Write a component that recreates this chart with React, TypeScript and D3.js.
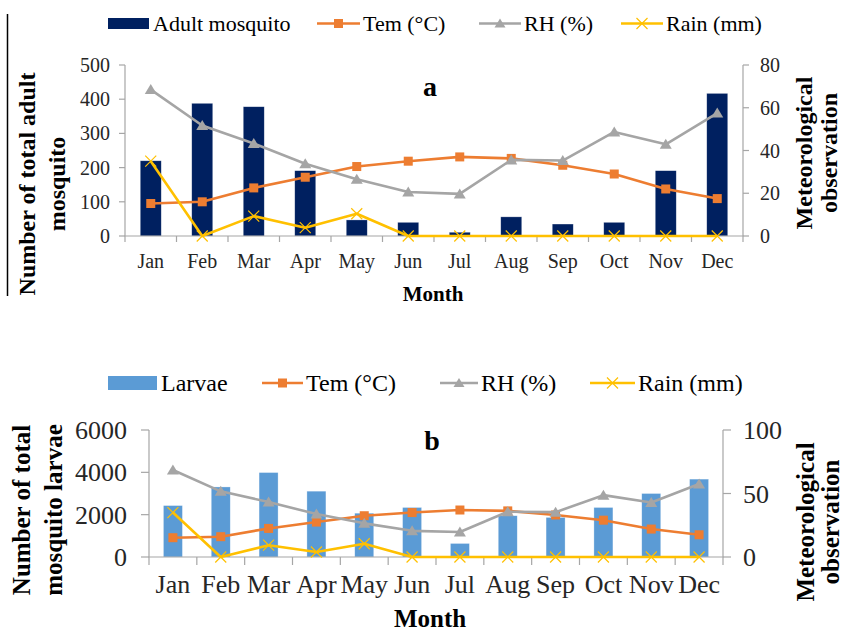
import React, { useRef, useEffect } from "react";
import * as d3 from "d3";

const months = ["Jan", "Feb", "Mar", "Apr", "May", "Jun", "Jul", "Aug", "Sep", "Oct", "Nov", "Dec"];
const adultMosquito = [220, 388, 378, 191, 47, 40, 11, 56, 35, 40, 191, 417];
const larvae = [2430, 3310, 3990, 3110, 2070, 2340, 640, 1950, 1870, 2340, 3000, 3680];
const temperature = [15.2, 16, 22.5, 27.5, 32.5, 35, 37, 36.3, 33.1, 29, 22, 17.5];
const humidity = [68.5, 51.7, 43.3, 33.8, 26.5, 20.6, 19.7, 35.6, 35.3, 48.7, 42.9, 57.5];
const rainfall = [35, 0, 9.3, 3.9, 10.4, 0, 0, 0, 0, 0, 0, 0];
const adultTicks = [0, 100, 200, 300, 400, 500];
const adultMetTicks = [0, 20, 40, 60, 80];
const larvaeTicks = [0, 2000, 4000, 6000];
const larvaeMetTicks = [0, 50, 100];

const FONT = "'Liberation Serif', 'Times New Roman', serif";
const AXIS = "#a6a6a6";
const TEM = "#ed7d31";
const RH = "#a5a5a5";
const RAIN = "#ffc000";

const drawMarker = (g, kind, x, y, color, size) => {
  if (kind === "square") {
    g.append("rect")
      .attr("x", x - size / 2)
      .attr("y", y - size / 2)
      .attr("width", size)
      .attr("height", size)
      .attr("fill", color);
  } else if (kind === "triangle") {
    const h = size * 0.9;
    g.append("path")
      .attr("d", `M${x},${y - h / 2 - 1}L${x + size / 2 + 1},${y + h / 2}L${x - size / 2 - 1},${y + h / 2}Z`)
      .attr("fill", color);
  } else {
    const r = size / 2;
    g.append("path")
      .attr("d", `M${x - r},${y - r}L${x + r},${y + r}M${x - r},${y + r}L${x + r},${y - r}`)
      .attr("stroke", color)
      .attr("stroke-width", 1.2);
  }
};

const drawPanel = (svg, p) => {
  const g = svg.append("g");
  const band = d3.scaleBand().domain(months).range([p.x0, p.x1]);
  const yL = d3.scaleLinear().domain([0, p.leftMax]).range([p.yBottom, p.yTop]);
  const yR = d3.scaleLinear().domain([0, p.rightMax]).range([p.yBottom, p.yTop]);
  const cx = (m) => band(m) + band.bandwidth() / 2;

  // bars
  g.selectAll(".bar")
    .data(p.bars)
    .enter()
    .append("rect")
    .attr("x", (d, i) => cx(months[i]) - p.barW / 2)
    .attr("y", (d) => yL(d))
    .attr("width", p.barW)
    .attr("height", (d) => p.yBottom - yL(d))
    .attr("fill", p.barColor)
    .attr("stroke", "#ffffff")
    .attr("stroke-opacity", 0.5)
    .attr("stroke-width", 0.6);

  // axes
  g.append("line").attr("x1", p.x0).attr("x2", p.x0).attr("y1", p.yTop).attr("y2", p.yBottom).attr("stroke", AXIS).attr("stroke-width", 1.2);
  g.append("line").attr("x1", p.x1).attr("x2", p.x1).attr("y1", p.yTop).attr("y2", p.yBottom).attr("stroke", AXIS).attr("stroke-width", 1.2);
  g.append("line").attr("x1", p.x0 - 0.5).attr("x2", p.x1 + 0.5).attr("y1", p.yBottom).attr("y2", p.yBottom).attr("stroke", AXIS).attr("stroke-width", 1.2);

  p.leftTicks.forEach((t) => {
    g.append("line").attr("x1", p.x0 - p.tickLen).attr("x2", p.x0).attr("y1", yL(t)).attr("y2", yL(t)).attr("stroke", AXIS).attr("stroke-width", 1.2);
    g.append("text")
      .text(t)
      .attr("x", p.x0 - p.leftLabelGap)
      .attr("y", yL(t))
      .attr("dy", "0.35em")
      .attr("text-anchor", "end")
      .style("font-family", FONT)
      .style("font-size", `${p.tickFont}px`)
      .attr("fill", "#262626");
  });
  p.rightTicks.forEach((t) => {
    g.append("line").attr("x1", p.x1).attr("x2", p.x1 + p.tickLen).attr("y1", yR(t)).attr("y2", yR(t)).attr("stroke", AXIS).attr("stroke-width", 1.2);
    g.append("text")
      .text(t)
      .attr("x", p.x1 + p.rightLabelGap)
      .attr("y", yR(t))
      .attr("dy", "0.35em")
      .attr("text-anchor", "start")
      .style("font-family", FONT)
      .style("font-size", `${p.tickFont}px`)
      .attr("fill", "#262626");
  });
  months.forEach((m, i) => {
    const bx = band(m);
    g.append("line").attr("x1", bx).attr("x2", bx).attr("y1", p.yBottom).attr("y2", p.yBottom + p.tickLen).attr("stroke", AXIS).attr("stroke-width", 1.2);
    if (i === months.length - 1) {
      g.append("line").attr("x1", p.x1).attr("x2", p.x1).attr("y1", p.yBottom).attr("y2", p.yBottom + p.tickLen).attr("stroke", AXIS).attr("stroke-width", 1.2);
    }
    g.append("text")
      .text(m)
      .attr("x", cx(m))
      .attr("y", p.monthBaseline)
      .attr("text-anchor", "middle")
      .style("font-family", FONT)
      .style("font-size", `${p.tickFont}px`)
      .attr("fill", "#262626");
  });

  // lines
  const series = [
    { values: temperature, color: TEM, marker: "square", size: p.markerSize },
    { values: humidity, color: RH, marker: "triangle", size: p.markerSize + 1 },
    { values: rainfall, color: RAIN, marker: "x", size: p.markerSize + 2 },
  ];
  series.forEach((s) => {
    const line = d3
      .line()
      .x((d, i) => cx(months[i]))
      .y((d) => yR(d));
    g.append("path").datum(s.values).attr("d", line).attr("fill", "none").attr("stroke", s.color).attr("stroke-width", 2.6).attr("stroke-linejoin", "round");
    s.values.forEach((v, i) => drawMarker(g, s.marker, cx(months[i]), yR(v), s.color, s.size));
  });

  // titles
  g.append("text")
    .text(p.letter)
    .attr("x", p.letterX)
    .attr("y", p.letterY)
    .attr("text-anchor", "middle")
    .style("font-family", FONT)
    .style("font-size", "28px")
    .style("font-weight", "bold");
  g.append("text")
    .text("Month")
    .attr("x", p.monthTitleX)
    .attr("y", p.monthTitleY)
    .attr("text-anchor", "middle")
    .style("font-family", FONT)
    .style("font-size", `${p.monthTitleFont}px`)
    .style("font-weight", "bold");
  const rotated = (lines, xs, cy, size) => {
    lines.forEach((t, i) => {
      g.append("text")
        .text(t)
        .attr("transform", `translate(${xs[i]},${cy}) rotate(-90)`)
        .attr("dy", "0.35em")
        .attr("text-anchor", "middle")
        .style("font-family", FONT)
        .style("font-size", `${size}px`)
        .style("font-weight", "bold");
    });
  };
  rotated(p.leftTitle, p.leftTitleX, p.leftTitleY, p.titleFont);
  rotated(["Meteorological", "observation"], p.rightTitleX, p.rightTitleY, p.titleFont);

  // legend
  const lg = g.append("g").style("font-family", FONT).style("font-size", `${p.legendFont}px`);
  const L = p.legend;
  lg.append("rect").attr("x", L.swatch[0]).attr("y", L.cy - L.swatchH / 2).attr("width", L.swatch[1] - L.swatch[0]).attr("height", L.swatchH).attr("fill", p.barColor);
  lg.append("text").text(p.barLabel).attr("x", L.swatch[1] + 4).attr("y", L.cy).attr("dy", "0.33em");
  const items = [
    { label: "Tem (°C)", color: TEM, marker: "square", size: p.markerSize, xs: L.tem },
    { label: "RH (%)", color: RH, marker: "triangle", size: p.markerSize, xs: L.rh },
    { label: "Rain (mm)", color: RAIN, marker: "x", size: p.markerSize + 2, xs: L.rain },
  ];
  items.forEach((it) => {
    lg.append("line").attr("x1", it.xs[0]).attr("x2", it.xs[1]).attr("y1", L.cy).attr("y2", L.cy).attr("stroke", it.color).attr("stroke-width", 2.6);
    drawMarker(lg, it.marker, (it.xs[0] + it.xs[1]) / 2, L.cy, it.color, it.size);
    lg.append("text").text(it.label).attr("x", it.xs[1] + 3).attr("y", L.cy).attr("dy", "0.33em");
  });
};

const App = () => {
  const ref = useRef(null);
  const width = 843;
  const height = 634;

  useEffect(() => {
    const svg = d3.select(ref.current);
    svg.selectAll("*").remove();
    svg.attr("width", width).attr("height", height);
    svg.append("rect").attr("width", width).attr("height", height).attr("fill", "#ffffff");
    svg.append("line").attr("x1", 7.5).attr("x2", 7.5).attr("y1", 14).attr("y2", 296).attr("stroke", "#000").attr("stroke-width", 1.5);

    drawPanel(svg, {
      bars: adultMosquito,
      barColor: "#002060",
      barLabel: "Adult mosquito",
      barW: 21,
      x0: 125,
      x1: 743,
      yTop: 65,
      yBottom: 236,
      leftMax: 500,
      rightMax: 80,
      leftTicks: adultTicks,
      rightTicks: adultMetTicks,
      tickLen: 6,
      tickFont: 20,
      leftLabelGap: 15,
      rightLabelGap: 17,
      monthBaseline: 268,
      monthTitleX: 433,
      monthTitleY: 301,
      monthTitleFont: 21,
      markerSize: 9,
      letter: "a",
      letterX: 430,
      letterY: 96,
      titleFont: 24,
      leftTitle: ["Number of total adult", "mosquito"],
      leftTitleX: [27, 57],
      leftTitleY: 184,
      rightTitleX: [804, 829],
      rightTitleY: 153,
      legendFont: 22,
      legend: { cy: 23.5, swatch: [108, 149], swatchH: 11, tem: [317, 360], rh: [479, 521], rain: [621, 663] },
    });

    drawPanel(svg, {
      bars: larvae,
      barColor: "#5b9bd5",
      barLabel: "Larvae",
      barW: 19,
      x0: 149,
      x1: 723,
      yTop: 430,
      yBottom: 557,
      leftMax: 6000,
      rightMax: 100,
      leftTicks: larvaeTicks,
      rightTicks: larvaeMetTicks,
      tickLen: 8,
      tickFont: 26,
      leftLabelGap: 22,
      rightLabelGap: 20,
      monthBaseline: 593,
      monthTitleX: 430,
      monthTitleY: 627,
      monthTitleFont: 25,
      markerSize: 9,
      letter: "b",
      letterX: 432,
      letterY: 450,
      titleFont: 25,
      leftTitle: ["Number of total", "mosquito larvae"],
      leftTitleX: [21, 53],
      leftTitleY: 510,
      rightTitleX: [805, 830],
      rightTitleY: 522,
      legendFont: 24,
      legend: { cy: 383, swatch: [108, 157], swatchH: 14, tem: [262, 303], rh: [440, 478], rain: [590, 635] },
    });
  }, []);

  return <svg ref={ref} style={{ position: "absolute", left: 0, top: 0, display: "block" }}></svg>;
};

export default App;
